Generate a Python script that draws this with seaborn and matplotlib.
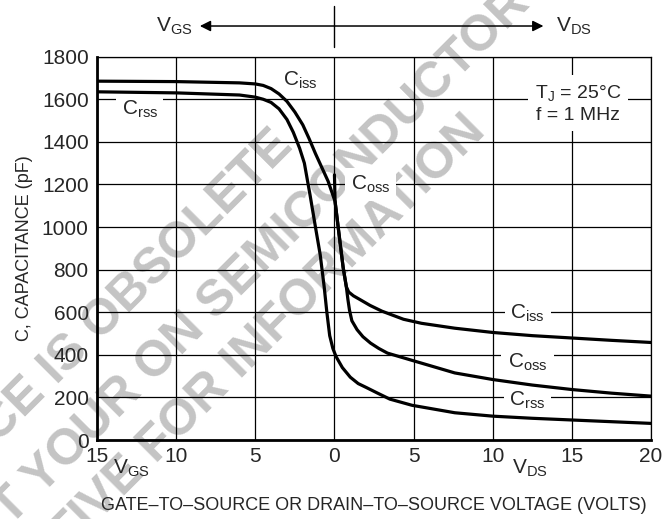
import numpy as np
import pandas as pd
import seaborn as sns
import matplotlib
matplotlib.use("Agg")
import matplotlib.pyplot as plt

# ==========================
# Data (negative x = VGS side, positive = VDS side)
# ==========================
ciss_v = [-15, -10, -6, -5, -4.5, -4, -3.5, -3.0, -2.5, -2.0, -1.6, -1.2, -0.8, -0.4, 0.04,
          0.3, 0.55, 0.75, 0.9, 1.2, 1.6, 2.25, 3.0, 4.36, 5.5, 7.6, 10, 12.5, 15, 17.5, 20]
ciss_pf = [1685, 1683, 1677, 1672, 1665, 1650, 1625, 1590, 1540, 1480, 1415, 1345, 1280, 1215, 1120,
           960, 810, 720, 695, 677, 660, 632, 605, 567, 548, 525, 505, 490, 479, 468, 458]

coss_v = [0.0, 0.04, 0.3, 0.55, 0.75, 0.85, 0.95, 1.1, 1.43, 1.8, 2.28, 2.8, 3.35, 4.9, 6,
          7.6, 10, 12.5, 15, 17.5, 20]
coss_pf = [1245, 1120, 960, 810, 720, 660, 610, 560, 518, 485, 455, 430, 408, 374, 350,
           315, 284, 258, 237, 220, 206]

crss_v = [-15, -10, -6, -5, -4.5, -4, -3.5, -3.0, -2.6, -2.2, -1.9, -1.54, -1.2, -0.9, -0.65,
          -0.48, -0.3, -0.1, 0.1, 0.5, 1.0, 1.5, 2.0, 2.7, 3.5, 4.9, 7.6, 10, 12.5, 15, 17.5, 20]
crss_pf = [1635, 1630, 1620, 1610, 1600, 1585, 1555, 1505, 1445, 1370, 1300, 1150, 1000, 870, 720,
           600, 490, 430, 392, 340, 295, 265, 247, 221, 192, 163, 128, 112, 102, 94, 86, 78]

x_ticks = [-15, -10, -5, 0, 5, 10, 15, 20]
x_tick_labels = ["15", "10", "5", "0", "5", "10", "15", "20"]
y_ticks = [0, 200, 400, 600, 800, 1000, 1200, 1400, 1600, 1800]

watermark_lines = ["THIS DEVICE IS OBSOLETE",
                   "CONTACT YOUR ON SEMICONDUCTOR",
                   "REPRESENTATIVE FOR INFORMATION"]

# ==========================
# Style
# ==========================
sns.set_style("white")
plt.rcParams["font.family"] = ["Liberation Sans Narrow", "Liberation Sans", "DejaVu Sans"]

fig = plt.figure(figsize=(6.66, 5.19), dpi=100)
ax = fig.add_axes([0.1456, 0.1522, 0.832, 0.7386])
ax.set_facecolor("none")

# watermark behind the chart (anchored at the end of each line, pixel positions / figure size)
wm = dict(color="#c4c4c4", fontsize=36, fontweight="bold", rotation=45,
          rotation_mode="anchor", ha="right", va="center", zorder=-5,
          family=["Liberation Sans", "DejaVu Sans"])
for txt, (px, py) in zip(watermark_lines, [(285, 138), (522, -4), (478, 124)]):
    fig.text(px / 666, 1 - py / 519, txt, **wm)

# ==========================
# Curves
# ==========================
for xs, ys in [(ciss_v, ciss_pf), (coss_v, coss_pf), (crss_v, crss_pf)]:
    sns.lineplot(x=xs, y=ys, sort=False, color="black", lw=2.3, ax=ax, zorder=4)

ax.set_xlim(-15, 20)
ax.set_ylim(0, 1800)
ax.set_xticks(x_ticks)
ax.set_xticklabels(x_tick_labels)
ax.set_yticks(y_ticks)
ax.tick_params(length=0, labelsize=15, pad=5)
ax.tick_params(axis="y", pad=6)
ax.grid(True, color="black", lw=0.9)
for side in ["top", "right"]:
    ax.spines[side].set_linewidth(0.9)
for side in ["left", "bottom"]:
    ax.spines[side].set_linewidth(2.0)
for s in ax.spines.values():
    s.set_color("black")

ax.set_ylabel("C, CAPACITANCE (pF)", fontsize=13, labelpad=6)
ax.set_xlabel("GATE\u2013TO\u2013SOURCE OR DRAIN\u2013TO\u2013SOURCE VOLTAGE (VOLTS)",
              fontsize=13, labelpad=22)

# ==========================
# Curve labels (white boxes break the grid, curves stay on top)
# ==========================
def label(x, y, s, pad=3):
    ax.text(x, y, s, fontsize=15, ha="center", va="center", zorder=3,
            bbox=dict(facecolor="white", edgecolor="none", pad=pad))

label(-2.15, 1690, r"$\mathregular{C_{iss}}$")
label(-12.3, 1555, r"$\mathregular{C_{rss}}$", pad=4)
label(2.3, 1200, r"$\mathregular{C_{oss}}$", pad=4)
label(12.2, 595, r"$\mathregular{C_{iss}}$", pad=4)
label(12.2, 365, r"$\mathregular{C_{oss}}$", pad=5)
label(12.2, 185, r"$\mathregular{C_{rss}}$", pad=4)
ax.text(15.4, 1580, "$\\mathregular{T_J}$ = 25\u00b0C\nf = 1 MHz", fontsize=14, ha="center",
        va="center", linespacing=1.3, zorder=3,
        bbox=dict(facecolor="white", edgecolor="none", pad=5))

# ==========================
# Direction arrow above the axes and side markers below
# ==========================
xt = ax.get_xaxis_transform()
for end in [-8.5, 13.2]:
    ax.annotate("", xy=(end, 1.08), xytext=(0, 1.08), xycoords=xt, textcoords=xt,
                arrowprops=dict(arrowstyle="-|>", color="black", lw=1.1, mutation_scale=16,
                                shrinkA=0, shrinkB=0), annotation_clip=False)
ax.plot([0, 0], [1.025, 1.132], transform=xt, color="black", lw=1.0, clip_on=False)
ax.text(-10.1, 1.08, r"$\mathregular{V_{GS}}$", transform=xt, fontsize=15, ha="center", va="center")
ax.text(15.1, 1.08, r"$\mathregular{V_{DS}}$", transform=xt, fontsize=15, ha="center", va="center")
ax.text(-12.85, -0.073, r"$\mathregular{V_{GS}}$", transform=xt, fontsize=15, ha="center", va="center")
ax.text(12.35, -0.073, r"$\mathregular{V_{DS}}$", transform=xt, fontsize=15, ha="center", va="center")

fig.savefig("out.png", dpi=100, facecolor="white")
